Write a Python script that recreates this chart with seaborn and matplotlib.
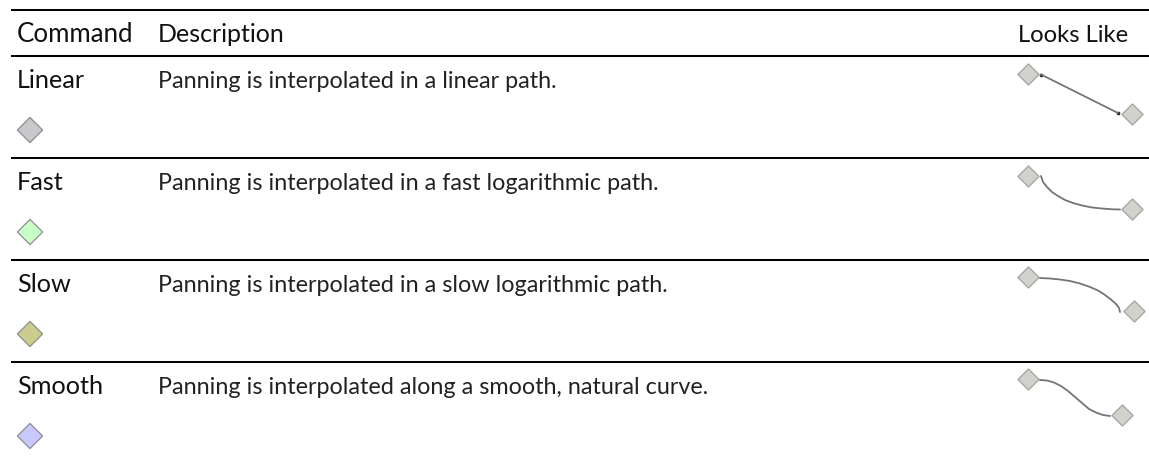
import matplotlib
matplotlib.use("Agg")
import matplotlib.pyplot as plt
import seaborn as sns
import pandas as pd

sns.set_theme(style="white")
plt.rcParams['font.family'] = ['Lato', 'DejaVu Sans']

headers = ["Command", "Description", "Looks Like"]
commands = ["Linear", "Fast", "Slow", "Smooth"]
descriptions = [
    "Panning is interpolated in a linear path.",
    "Panning is interpolated in a fast logarithmic path.",
    "Panning is interpolated in a slow logarithmic path.",
    "Panning is interpolated along a smooth, natural curve.",
]
icon_colors = ["#C8C8CC", "#C8FFC8", "#CCCC8C", "#C8C8FF"]
rule_y = [10, 56, 158, 260, 362]
text_y = [88, 190, 292, 394]
icon_y = [130, 232, 334, 436]

linear_x = [1041, 1118]
linear_y = [74.5, 113]
fast_x = [1041, 1043, 1047, 1052, 1058, 1065, 1073, 1082, 1092, 1102, 1112, 1120]
fast_y = [176, 182, 187, 192, 196, 200, 203, 205.5, 207.5, 208.5, 209.3, 209.5]
slow_x = [1040, 1050, 1060, 1070, 1080, 1090, 1098, 1105, 1111, 1116, 1119, 1120]
slow_y = [278, 278.5, 279.5, 281, 283.5, 287, 290.5, 295, 299.5, 304, 308, 312]
smooth_x = [1040, 1047, 1054, 1061, 1068, 1075, 1082, 1089, 1096, 1103, 1110]
smooth_y = [380, 380.5, 382.5, 386, 391, 397, 403, 409, 412.5, 415, 416]
curve_x = [linear_x, fast_x, slow_x, smooth_x]
curve_y = [linear_y, fast_y, slow_y, smooth_y]
node_x = [1028, 1132, 1028, 1132, 1028, 1134, 1028, 1122]
node_y = [74, 114, 176, 209, 277, 311, 379, 415]

fig = plt.figure(figsize=(11.49, 4.59), dpi=100)
ax = fig.add_axes([0, 0, 1, 1])

ax.hlines(rule_y, 11, 1149, color="black", lw=1.45)

head_sizes = [18.6, 18.0, 17.2]
fs_cmd = 18.2
fs_body = 16.8
for label, x, fs in zip(headers, [17, 158, 1018], head_sizes):
    ax.text(x, 42, label, fontsize=fs, color="#111111", va="baseline", ha="left")
for cmd, desc, y in zip(commands, descriptions, text_y):
    ax.text(17, y, cmd, fontsize=fs_cmd, color="#111111", va="baseline", ha="left")
    ax.text(158, y, desc, fontsize=fs_body, color="#222222", va="baseline", ha="left")

icons = pd.DataFrame({"x": [30] * 4, "y": icon_y, "c": icon_colors})
sns.scatterplot(data=icons, x="x", y="y", hue="c", palette=dict(zip(icon_colors, icon_colors)),
                marker="D", s=165, edgecolor="#8E8E8E", linewidth=0.9, legend=False, ax=ax)

for cx, cy in zip(curve_x, curve_y):
    df = pd.DataFrame({"x": cx, "y": cy})
    sns.lineplot(data=df, x="x", y="y", sort=False, estimator=None, color="#747474", lw=1.3, ax=ax)

ends = pd.DataFrame({"x": linear_x, "y": linear_y})
sns.scatterplot(data=ends, x="x", y="y", marker="o", s=7, color="#222222", linewidth=0, legend=False, ax=ax)

nodes = pd.DataFrame({"x": node_x, "y": node_y})
sns.scatterplot(data=nodes, x="x", y="y", marker="D", s=115, color="#D2D2CC",
                edgecolor="#A8A8A4", linewidth=1.0, legend=False, ax=ax)

ax.set_xlim(0, 1149)
ax.set_ylim(459, 0)
ax.axis("off")
fig.savefig("out.png", dpi=100)
